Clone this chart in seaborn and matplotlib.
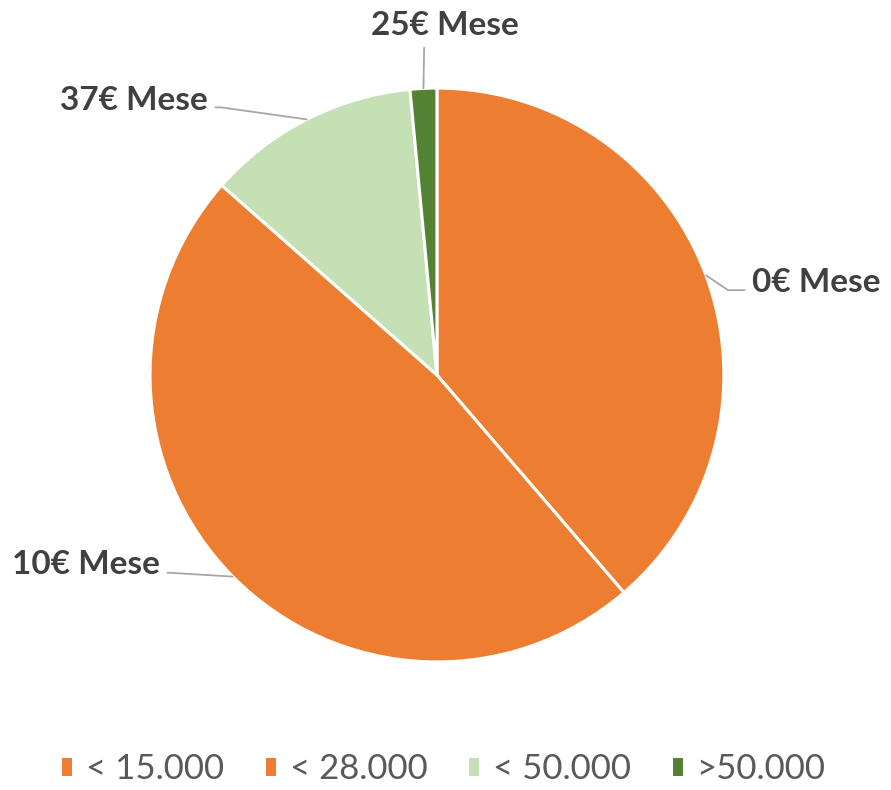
import numpy as np
import seaborn as sns
import matplotlib.pyplot as plt
import matplotlib.patches as mpatches

# Income brackets and share of each
legend_labels = ["< 15.000", "< 28.000", "< 50.000", ">50.000"]
slice_labels = ["0€ Mese", "10€ Mese", "37€ Mese", "25€ Mese"]
shares = [38.7, 47.8, 12.0, 1.5]

# Office-like palette
palette = sns.color_palette(["#ED7D31", "#ED7D31", "#C5E0B4", "#548235"])

sns.set_theme(style="white")
plt.rcParams['font.family'] = ['Lato', 'DejaVu Sans']

fig = plt.figure(figsize=(8.91, 7.9), dpi=100)
ax = fig.add_axes([0.1684, 0.162, 0.644, 0.7266])

wedges, _ = ax.pie(shares, colors=palette, startangle=90, counterclock=False,
                   radius=1, wedgeprops=dict(edgecolor="white", linewidth=2.2))
ax.set_xlim(-1, 1)
ax.set_ylim(-1, 1)
ax.set_aspect("equal")
ax.axis("off")

# label placement: text position, alignment, where the leader line leaves the text, connection style
label_pos = [
    ((1.098, 0.321), "left", "center", (0, 0.25), "angle,angleA=180,angleB=146,rad=0"),
    ((-0.965, -0.662), "right", "center", (1, 0.25), "arc3"),
    ((-0.798, 0.958), "right", "center", (1, 0.25), "angle,angleA=0,angleB=-8,rad=0"),
    ((0.028, 1.167), "center", "bottom", (0.36, 0), "arc3"),
]

for w, lab, (xyt, ha, va, rp, cs) in zip(wedges, slice_labels, label_pos):
    mid = np.deg2rad((w.theta1 + w.theta2) / 2)
    xy = (np.cos(mid), np.sin(mid))
    ax.annotate(lab, xy=xy, xytext=xyt, ha=ha, va=va, fontsize=24,
                fontweight="bold", color="#404040",
                arrowprops=dict(arrowstyle="-", color="#A6A6A6", lw=1.3,
                                relpos=rp, connectionstyle=cs,
                                shrinkA=3, shrinkB=0))

handles = [mpatches.Patch(facecolor=c, edgecolor="none") for c in palette]
fig.legend(handles, legend_labels, loc="center", bbox_to_anchor=(0.498, 0.026),
           ncol=4, frameon=False, fontsize=25, labelcolor="#595959",
           handlelength=0.29, handleheight=0.42, handletextpad=0.4,
           columnspacing=1.2)

fig.savefig("out.png", dpi=100)
